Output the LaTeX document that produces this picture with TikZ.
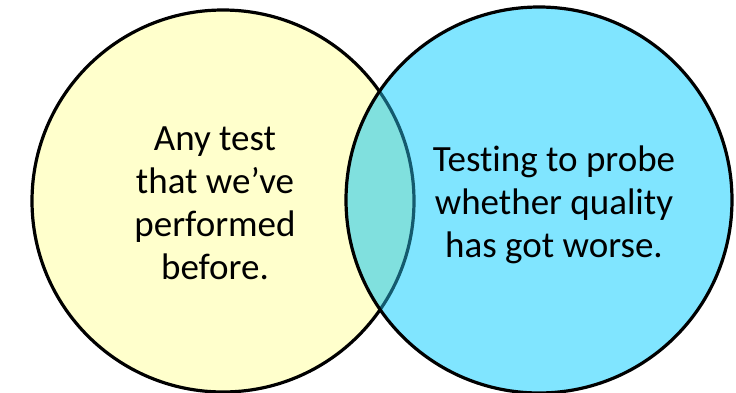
\documentclass[tikz,border=0pt]{standalone}
\usepackage{fontspec}
\setmainfont[RawFeature=-liga]{Carlito}
\definecolor{setyellow}{RGB}{255,255,204}
\definecolor{setcyan}{RGB}{128,229,255}
\definecolor{setboth}{RGB}{128,224,222}
\definecolor{setedge}{RGB}{20,90,110}
\begin{document}
\begin{tikzpicture}[
        x=1pt, y=1pt,
        every node/.style={font=\fontsize{37}{43}\selectfont, align=center, text=black},
        ring/.style={line width=3.2pt}
    ]
        \useasboundingbox (0,0) rectangle (736,392);

        % Hai tập hợp
        \fill[setyellow] (223,191) circle (191);
        \draw[ring] (223,191) circle (191);
        \fill[setcyan] (539,192) circle (193);

        % Phần giao nhau
        \begin{scope}
            \clip (539,192) circle (193);
            \begin{scope}
                \clip (223,191) circle (191);
                \fill[setboth] (539,192) circle (193);
            \end{scope}
            \draw[ring, setedge] (223,191) circle (191);
        \end{scope}
        \draw[ring] (539,192) circle (193);

        % Nhãn
        \node (old) at (215,189) {Any test\\that we’ve\\performed\\before.};
        \node (worse) at (554,187) {Testing to probe\\whether quality\\has got worse.};
    \end{tikzpicture}
\end{document}
